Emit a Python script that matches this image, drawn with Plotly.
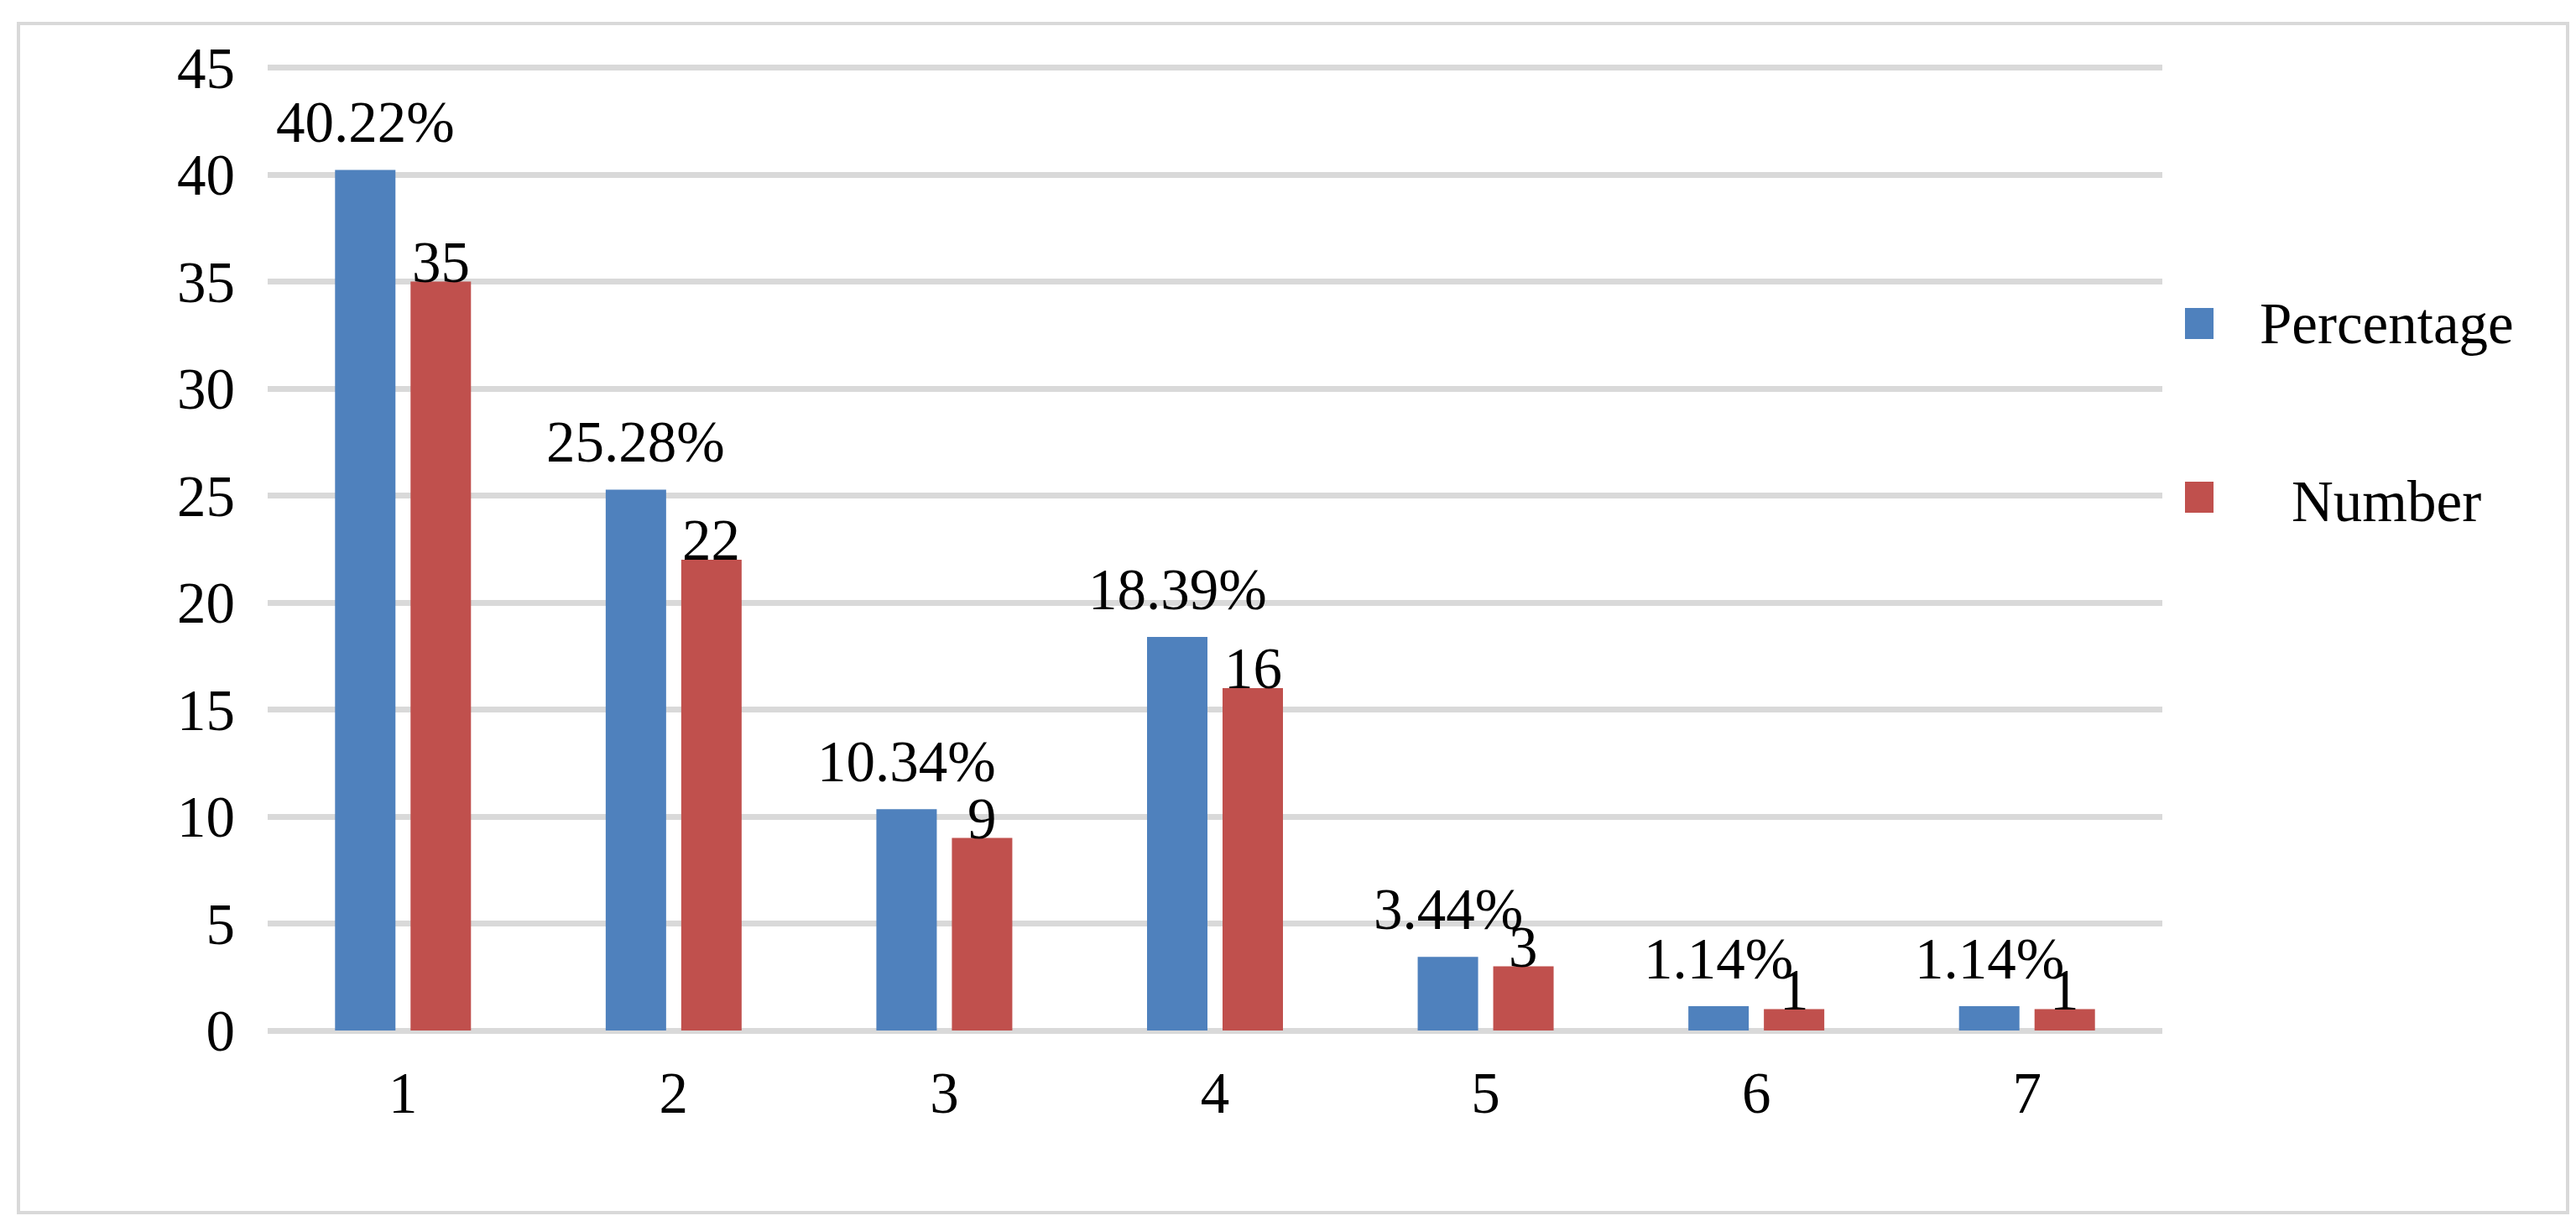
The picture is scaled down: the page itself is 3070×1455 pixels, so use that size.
import plotly.graph_objects as go

categories = ["1", "2", "3", "4", "5", "6", "7"]
percentage = [40.22, 25.28, 10.34, 18.39, 3.44, 1.14, 1.14]
number = [35, 22, 9, 16, 3, 1, 1]
percentage_labels = ["40.22%", "25.28%", "10.34%", "18.39%", "3.44%", "1.14%", "1.14%"]
number_labels = ["35", "22", "9", "16", "3", "1", "1"]
y_ticks = [0, 5, 10, 15, 20, 25, 30, 35, 40, 45]

BLUE = "#4F81BD"
RED = "#C0504D"
GRID = "#D9D9D9"
FONT = "Liberation Serif, Times New Roman, serif"
FS = 69

W, H = 3070, 1455
L, R, T, B = 311, W - 2569, 70, H - 1220
PW, PH = W - L - R, H - T - B


def px_x(px):
    return (px - L) / PW


def px_y(py):
    return (H - B - py) / PH


fig = go.Figure()
fig.add_trace(go.Bar(x=categories, y=percentage, name="Percentage",
                     marker=dict(color=BLUE, line=dict(width=0)), showlegend=False))
fig.add_trace(go.Bar(x=categories, y=number, name="Number",
                     marker=dict(color=RED, line=dict(width=0)), showlegend=False))

annotations = []
for i, (v, t) in enumerate(zip(percentage, percentage_labels)):
    annotations.append(dict(x=i, y=v, text=t, xref="x", yref="y", showarrow=False,
                            xanchor="center", yanchor="bottom", xshift=-45, yshift=16,
                            font=dict(family=FONT, size=FS, color="black")))
for i, (v, t) in enumerate(zip(number, number_labels)):
    annotations.append(dict(x=i, y=v, text=t, xref="x", yref="y", showarrow=False,
                            xanchor="center", yanchor="bottom", xshift=45, yshift=-17,
                            font=dict(family=FONT, size=FS, color="black")))

# custom legend (large square swatches as in the reference)
legend_items = [("Percentage", BLUE, 359, 396, 378), ("Number", RED, 566, 603, 590)]
shapes = []
for name, color, y0, y1, ty in legend_items:
    shapes.append(dict(type="rect", xref="paper", yref="paper",
                       x0=px_x(2596), x1=px_x(2630), y0=px_y(y1), y1=px_y(y0),
                       fillcolor=color, line=dict(width=0)))
    annotations.append(dict(x=px_x(2836), y=px_y(ty), xref="paper", yref="paper",
                            text=name, showarrow=False, xanchor="center", yanchor="middle",
                            font=dict(family=FONT, size=FS, color="black")))

# outer border
shapes.append(dict(type="rect", xref="paper", yref="paper",
                   x0=px_x(14), x1=px_x(3052), y0=px_y(1437), y1=px_y(20),
                   line=dict(color=GRID, width=4), fillcolor="rgba(0,0,0,0)", layer="below"))

fig.update_layout(
    width=W, height=H,
    margin=dict(l=L, r=R, t=T, b=B, pad=0),
    paper_bgcolor="white", plot_bgcolor="white",
    barmode="group", bargap=0.442, bargroupgap=0.2,
    font=dict(family=FONT, size=FS, color="black"),
    annotations=annotations, shapes=shapes,
    showlegend=False,
)
fig.update_xaxes(type="category", showgrid=False, zeroline=False, showline=False,
                 ticks="", ticklabelstandoff=28,
                 tickfont=dict(family=FONT, size=FS, color="black"))
fig.update_yaxes(range=[0, 45.1], tickvals=y_ticks, showgrid=True, gridcolor=GRID, gridwidth=7,
                 zeroline=True, zerolinecolor=GRID, zerolinewidth=7, showline=False,
                 ticks="", ticklabelstandoff=38,
                 tickfont=dict(family=FONT, size=FS, color="black"))

fig.write_html("out.html")
